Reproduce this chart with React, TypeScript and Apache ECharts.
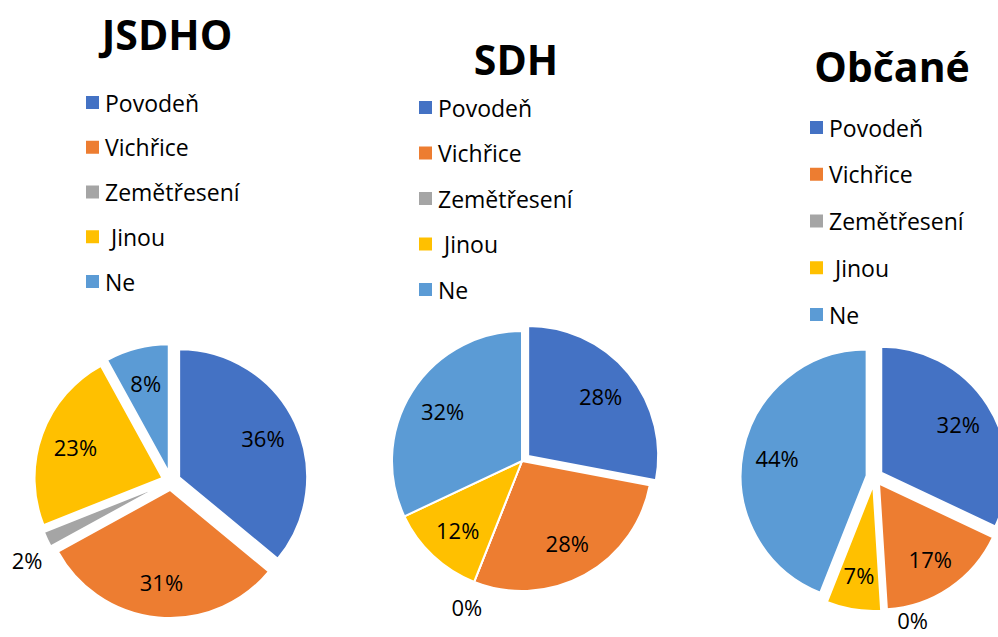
import { useEffect, useRef } from 'react';
import * as echarts from 'echarts';

const categories = ['Povodeň', 'Vichřice', 'Zemětřesení', ' Jinou', 'Ne'];
const sliceColors = ['#4472C4', '#ED7D31', '#A5A5A5', '#FFC000', '#5B9BD5'];
const chartTitles = ['JSDHO', 'SDH', 'Občané'];
const jsdhoValues = [36, 31, 2, 23, 8];
const sdhValues = [28, 28, 0, 12, 32];
const obcaneValues = [32, 17, 0, 7, 44];
const explodedSlices = [[0, 1, 2, 3, 4], [0], [0, 1, 2, 3, 4]];

const FONT = '"Open Sans", "Noto Sans", sans-serif';

const layouts = [
  { cx: 171, cy: 481, r: 128, offset: 9, titleX: 167, titleY: 34, legendLeft: 84, legendTop: 91, legendGap: 21.75, shift: { 2: [0, 19] } as Record<number, number[]> },
  { cx: 522, cy: 461, r: 130, offset: 8, titleX: 516, titleY: 59, legendLeft: 417, legendTop: 96, legendGap: 22.5, shift: { 2: [10, 20] } as Record<number, number[]> },
  { cx: 874.5, cy: 477, r: 126, offset: 8, titleX: 892, titleY: 66, legendLeft: 808, legendTop: 116, legendGap: 23.75, shift: { 2: [14, 4] } as Record<number, number[]> },
];

export default function App() {
  const ref = useRef<HTMLDivElement>(null);
  useEffect(() => {
    if (!ref.current) return;
    const chart = echarts.init(ref.current, null, { renderer: 'svg' });
    const allValues = [jsdhoValues, sdhValues, obcaneValues];

    const mainSeries = allValues.map((vals, k) => {
      const L = layouts[k];
      return {
        type: 'pie',
        name: chartTitles[k],
        center: [L.cx, L.cy],
        radius: [0, L.r],
        startAngle: 90,
        clockwise: true,
        selectedMode: 'multiple',
        selectedOffset: L.offset,
        avoidLabelOverlap: false,
        silent: true,
        emphasis: { disabled: true },
        label: { show: false },
        labelLine: { show: false },
        itemStyle: { borderColor: '#fff', borderWidth: 2 },
        select: { itemStyle: { borderColor: '#fff', borderWidth: 2 } },
        data: vals.map((v, i) => ({
          name: categories[i],
          value: v,
          selected: explodedSlices[k].includes(i),
          itemStyle: { color: sliceColors[i] },
        })),
      };
    });

    const labelSeries = allValues.map((vals, k) => {
      const L = layouts[k];
      return {
        type: 'pie',
        name: chartTitles[k] + ' labels',
        center: [L.cx, L.cy],
        radius: [L.r * 0.4, L.r],
        startAngle: 90,
        clockwise: true,
        selectedMode: 'multiple',
        selectedOffset: L.offset,
        avoidLabelOverlap: false,
        silent: true,
        emphasis: { disabled: true },
        itemStyle: { color: 'rgba(0,0,0,0)', borderWidth: 0 },
        select: { itemStyle: { color: 'rgba(0,0,0,0)', borderWidth: 0 } },
        label: {
          show: true,
          position: 'inside',
          formatter: '{c}%',
          color: '#000',
          fontSize: 22,
          fontFamily: FONT,
          distanceToLabelLine: 0,
        },
        labelLine: { show: false, length: 5, length2: 0 },
        labelLayout: (p: any) => {
          const s = L.shift[p.dataIndex];
          return s ? { dx: s[0], dy: s[1] } : {};
        },
        data: vals.map((v, i) => ({
          name: categories[i],
          value: v,
          selected: explodedSlices[k].includes(i),
          label: v < 5 ? { position: 'outside' } : undefined,
        })),
      };
    });

    chart.setOption({
      animation: false,
      backgroundColor: '#fff',
      legend: layouts.map((L) => ({
        orient: 'vertical',
        left: L.legendLeft,
        top: L.legendTop,
        padding: 0,
        itemWidth: 15,
        itemHeight: 15,
        itemGap: L.legendGap,
        icon: 'rect',
        selectedMode: false,
        data: categories,
        textStyle: { fontSize: 23, color: '#000', fontFamily: FONT, lineHeight: 22 },
      })),
      graphic: layouts.map((L, k) => ({
        type: 'text',
        x: L.titleX,
        y: L.titleY,
        style: {
          text: chartTitles[k],
          fontSize: 41,
          fontWeight: 'bold',
          fontFamily: FONT,
          fill: '#000',
          align: 'center',
          verticalAlign: 'middle',
        },
      })),
      series: [...mainSeries, ...labelSeries],
    });
    return () => chart.dispose();
  }, []);
  return <div ref={ref} style={{ position: 'fixed', left: 0, top: 0, width: 998, height: 637 }} />;
}
